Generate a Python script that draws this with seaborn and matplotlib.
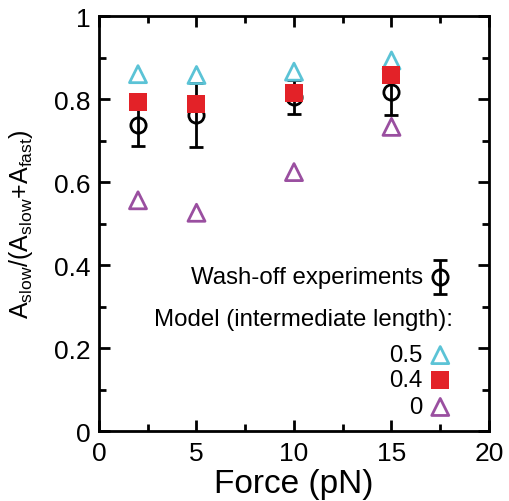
import numpy as np
import pandas as pd
import matplotlib
matplotlib.use("Agg")
import matplotlib.pyplot as plt
from matplotlib.ticker import FixedLocator
import seaborn as sns

# Forces (pN)
force = [2, 5, 10, 15]

# Wash-off experiments: mean fraction and error
exp_mean = [0.738, 0.762, 0.805, 0.817]
exp_err = [0.052, 0.077, 0.040, 0.055]

# Model results for intermediate lengths
model_05 = [0.860, 0.858, 0.866, 0.893]
model_04 = [0.794, 0.788, 0.814, 0.857]
model_00 = [0.556, 0.526, 0.624, 0.733]

x_ticks = [0, 5, 10, 15, 20]
x_ticklabels = ["0", "5", "10", "15", "20"]
y_ticks = [0, 0.2, 0.4, 0.6, 0.8, 1.0]
y_ticklabels = ["0", "0.2", "0.4", "0.6", "0.8", "1"]

cyan = "#5bc3d6"
red = "#e32228"
purple = "#9a4fa0"

sns.set_theme(style="ticks")
plt.rcParams["font.family"] = ["Liberation Sans", "DejaVu Sans"]
plt.rcParams["mathtext.fontset"] = "custom"
plt.rcParams["mathtext.rm"] = "Liberation Sans"
plt.rcParams["mathtext.it"] = "Liberation Sans"
plt.rcParams["text.color"] = "black"
plt.rcParams["axes.labelcolor"] = "black"

fig = plt.figure(figsize=(5.09, 5.02), dpi=100)
ax = fig.add_axes([0.1945, 0.1394, 0.7662, 0.8266])

df = pd.DataFrame({
    "force": force * 3,
    "value": model_05 + model_04 + model_00,
    "model": ["0.5"] * 4 + ["0.4"] * 4 + ["0"] * 4,
})

ax.errorbar(force, exp_mean, yerr=exp_err, fmt="o", mfc="none", mec="black",
            ecolor="black", ms=11, mew=2, elinewidth=2, capsize=5, capthick=2,
            zorder=2)

sns.scatterplot(data=df[df.model == "0.5"], x="force", y="value", ax=ax,
                marker="^", s=150, facecolors="none", edgecolor=cyan,
                linewidth=2, legend=False, zorder=3)
sns.scatterplot(data=df[df.model == "0.4"], x="force", y="value", ax=ax,
                marker="s", s=150, color=red, edgecolor=red, linewidth=0,
                legend=False, zorder=3)
sns.scatterplot(data=df[df.model == "0"], x="force", y="value", ax=ax,
                marker="^", s=150, facecolors="none", edgecolor=purple,
                linewidth=2, legend=False, zorder=3)

# Legend drawn as text and sample markers inside the axes
lx = 17.5
fs = 17.3
ax.errorbar([lx], [0.371], yerr=[0.04], fmt="o", mfc="none", mec="black",
            ecolor="black", ms=11, mew=2, elinewidth=2, capsize=5, capthick=2)
ax.text(16.6, 0.371, "Wash-off experiments", ha="right", va="center", fontsize=fs)
ax.text(18.15, 0.27, "Model (intermediate length):", ha="right", va="center", fontsize=fs)
ax.scatter([lx], [0.183], marker="^", s=150, facecolors="none", edgecolors=cyan, linewidths=2)
ax.text(16.6, 0.183, "0.5", ha="right", va="center", fontsize=fs)
ax.scatter([lx], [0.123], marker="s", s=150, color=red, linewidths=0)
ax.text(16.6, 0.123, "0.4", ha="right", va="center", fontsize=fs)
ax.scatter([lx], [0.058], marker="^", s=150, facecolors="none", edgecolors=purple, linewidths=2)
ax.text(16.6, 0.058, "0", ha="right", va="center", fontsize=fs)

ax.set_xlim(0, 20)
ax.set_ylim(0, 1)
ax.set_xticks(x_ticks)
ax.set_xticklabels(x_ticklabels)
ax.set_yticks(y_ticks)
ax.set_yticklabels(y_ticklabels)
ax.xaxis.set_minor_locator(FixedLocator([2.5, 7.5, 12.5, 17.5]))
ax.yaxis.set_minor_locator(FixedLocator([0.1, 0.3, 0.5, 0.7, 0.9]))

ax.tick_params(which="both", direction="in", top=True, right=True, width=2,
               labelsize=19, colors="black")
ax.tick_params(axis="x", pad=7)
ax.tick_params(axis="y", pad=6)
ax.tick_params(which="major", length=8)
ax.tick_params(which="minor", length=5)
for sp in ax.spines.values():
    sp.set_linewidth(2)
    sp.set_color("black")

ax.set_xlabel("Force (pN)", fontsize=24, labelpad=2)
ax.set_ylabel(r"A$_{\rm slow}$/(A$_{\rm slow}$+A$_{\rm fast}$)", fontsize=18, labelpad=14)

fig.savefig("out.png", dpi=100)
